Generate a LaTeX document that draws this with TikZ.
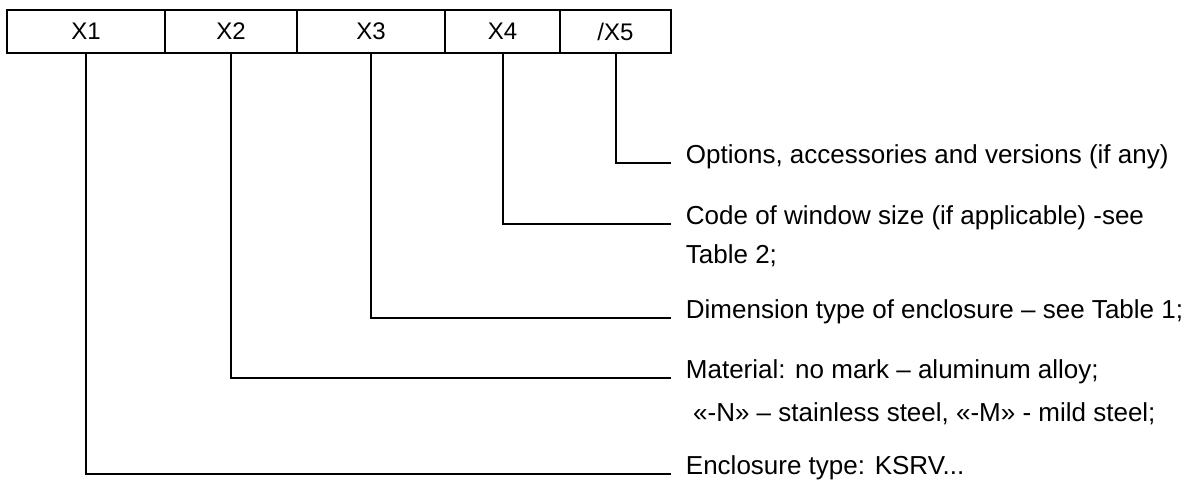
\documentclass[tikz,border=0pt]{standalone}
\usepackage{fontspec}
\setmainfont{Liberation Sans}
\usepackage{tikz}
\usetikzlibrary{positioning}

\tikzset{
  cell/.style={draw, line width=1.5pt, minimum height=32.25pt, inner sep=0pt, font=\fontsize{18}{20}\selectfont},
  lbl/.style={anchor=base west, inner xsep=11pt, inner ysep=1pt, font=\fontsize{19.5}{22}\selectfont},
  lead/.style={line width=1.5pt}
}

\begin{document}
\begin{tikzpicture}[x=0.75pt, y=-0.75pt]
      \useasboundingbox (0,0) rectangle (1200,480);

      \node[cell, minimum width=118.5pt] (X1) at (86,31.5) {X1};
      \node[cell, minimum width=99pt] (X2) at (231,31.5) {X2};
      \node[cell, minimum width=111pt] (X3) at (371,31.5) {X3};
      \node[cell, minimum width=86.25pt] (X4) at (502.5,31.5) {X4};
      \node[cell, minimum width=83.25pt] (X5) at (615.5,31.5) {/X5};

      \node[lbl] (opt) at (671,163) {Options, accessories and versions (if any)};
      \node[lbl] (code) at (671,224) {Code of window size (if applicable) -see};
      \node[lbl] (tab) at (671,263) {Table 2;};
      \node[lbl] (dim) at (671,318) {Dimension type of enclosure – see Table 1;};
      \node[lbl] (mat) at (671,378) {Material: no mark – aluminum alloy;};
      \node[lbl] (mark) at (671,421) {\ «-N» – stainless steel, «-M» - mild steel;};
      \node[lbl] (encl) at (671,474) {Enclosure type: KSRV...};

      \draw[lead] (X5.south) |- (opt.base west);
      \draw[lead] (X4.south) |- (code.base west);
      \draw[lead] (X3.south) |- (dim.base west);
      \draw[lead] (X2.south) |- (mat.base west);
      \draw[lead] (X1.south) |- (encl.base west);
\end{tikzpicture}
\end{document}
